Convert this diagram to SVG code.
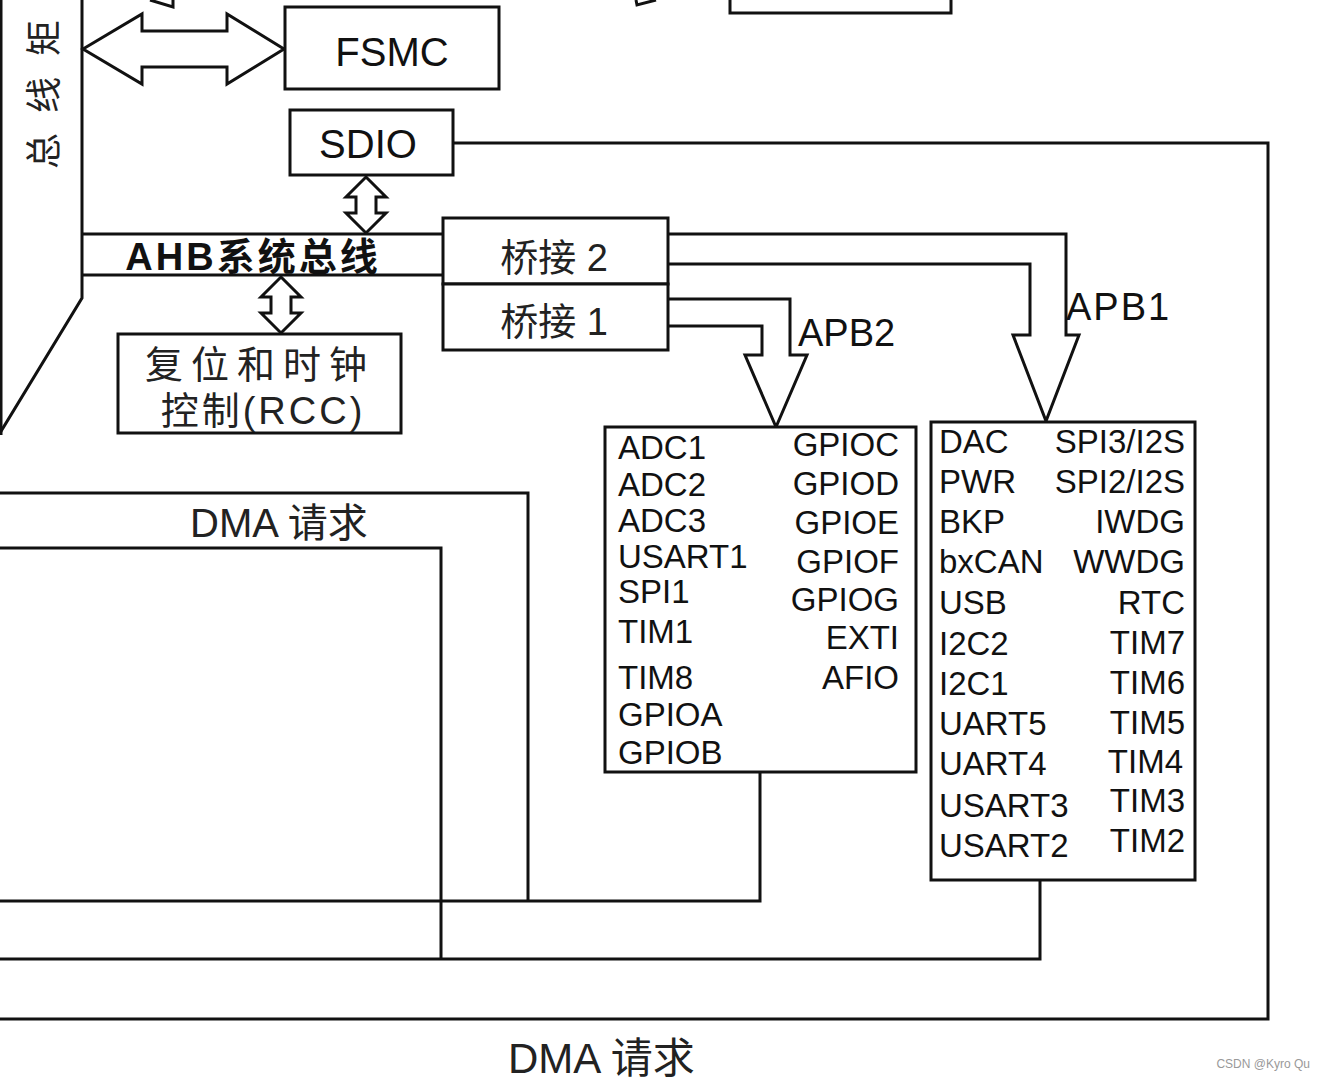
<svg xmlns="http://www.w3.org/2000/svg" width="1324" height="1080" viewBox="0 0 1324 1080">
<style>
.ln{fill:none;stroke:#111;stroke-width:3}
.box{fill:#fff;stroke:#111;stroke-width:3}
.arw{fill:#fff;stroke:#111;stroke-width:3;stroke-linejoin:miter}
.t{font-family:"Liberation Sans","Noto Sans CJK SC",sans-serif;fill:#111}
.cn{font-family:"Liberation Sans","Noto Sans CJK SC",sans-serif;fill:#222}
.it{font-family:"Liberation Sans",sans-serif;font-size:33px;fill:#111}
.r{text-anchor:end}
.c{text-anchor:middle}
</style>
<rect width="1324" height="1080" fill="#fff"/>

<g id="connectors">
  <!-- left bus matrix outline -->
  <polyline class="ln" points="82,0 82,298 0,433"/>
  <line class="ln" x1="1" y1="0" x2="1" y2="435"/>
  <!-- top partial shapes -->
  <polyline class="ln" stroke-width="2" points="150,0 173,7 173,0"/>
  <polyline class="ln" stroke-width="3" points="636,0 637,5 656,0"/>
  <polyline class="ln" points="730,-2 730,13 951,13 951,-2"/>
  <!-- FSMC double arrow -->
  <polygon class="arw" points="83,49 142,14 142,31 227,31 227,14 284,49 227,84 227,67 142,67 142,84"/>
  <!-- SDIO double arrow -->
  <polygon class="arw" points="366,177 386,197 376,197 376,213 386,213 366,233 346,213 356,213 356,197 346,197"/>
  <!-- AHB bus -->
  <line class="ln" x1="82" y1="234" x2="443" y2="234"/>
  <line class="ln" x1="82" y1="275" x2="443" y2="275"/>
  <!-- RCC double arrow -->
  <polygon class="arw" points="281,277 301,297 291,297 291,313 301,313 281,333 261,313 271,313 271,297 261,297"/>
  <!-- APB1 bus arrow -->
  <polyline class="arw" points="668,234 1066,234 1066,335 1079,335 1046,421 1013,335 1030,335 1030,264 668,264"/>
  <!-- APB2 bus arrow -->
  <polyline class="arw" points="668,299 790,299 790,355 807,355 776,427 745,355 762,355 762,326 668,326"/>
  <!-- SDIO DMA request line -->
  <polyline class="ln" points="453,143 1268,143 1268,1019 0,1019"/>
  <!-- DMA request lines -->
  <polyline class="ln" points="0,493 528,493 528,901"/>
  <polyline class="ln" points="0,901 760,901 760,772"/>
  <polyline class="ln" points="0,548 441,548 441,959"/>
  <polyline class="ln" points="0,959 1040,959 1040,881"/>
</g>

<g id="busmatrix">
  <text class="cn c" font-size="36" transform="translate(57,151) rotate(-90)">总</text>
  <text class="cn c" font-size="36" transform="translate(57,95) rotate(-90)">线</text>
  <text class="cn c" font-size="36" transform="translate(57,38) rotate(-90)">矩</text>
</g>

<g id="fsmc">
  <rect class="box" x="285" y="7" width="214" height="82"/>
  <text class="t c" x="392" y="66" font-size="40">FSMC</text>
</g>

<g id="sdio">
  <rect class="box" x="290" y="110" width="163" height="65"/>
  <text class="t c" x="368" y="158" font-size="40">SDIO</text>
</g>

<g id="ahb">
  <text class="t c" x="253" y="270" font-size="38" font-weight="bold" letter-spacing="3">AHB系统总线</text>
</g>

<g id="rcc">
  <rect class="box" x="118" y="334" width="283" height="99" stroke-width="4"/>
  <text class="cn c" x="260" y="378" font-size="38" letter-spacing="8">复位和时钟</text>
  <text class="cn c" x="263" y="424" font-size="38" letter-spacing="3">控制(RCC)</text>
</g>

<g id="bridge2">
  <rect class="box" x="443" y="218" width="225" height="66"/>
  <text class="cn c" x="554" y="271" font-size="38">桥接 2</text>
</g>
<g id="bridge1">
  <rect class="box" x="443" y="284" width="225" height="66"/>
  <text class="cn c" x="554" y="335" font-size="38">桥接 1</text>
</g>

<g id="apb-labels">
  <text class="t" x="798" y="346" font-size="38">APB2</text>
  <text class="t" x="1066" y="320" font-size="38" letter-spacing="2">APB1</text>
</g>

<g id="apb2-periph">
  <rect class="box" x="605" y="427" width="311" height="345" stroke-width="2.5"/>
  <text class="it" x="618" y="459">ADC1</text>
  <text class="it" x="618" y="496">ADC2</text>
  <text class="it" x="618" y="532">ADC3</text>
  <text class="it" x="618" y="568">USART1</text>
  <text class="it" x="618" y="603">SPI1</text>
  <text class="it" x="618" y="643">TIM1</text>
  <text class="it" x="618" y="689">TIM8</text>
  <text class="it" x="618" y="726">GPIOA</text>
  <text class="it" x="618" y="764">GPIOB</text>
  <text class="it r" x="899" y="456">GPIOC</text>
  <text class="it r" x="899" y="495">GPIOD</text>
  <text class="it r" x="899" y="534">GPIOE</text>
  <text class="it r" x="899" y="573">GPIOF</text>
  <text class="it r" x="899" y="611">GPIOG</text>
  <text class="it r" x="899" y="649">EXTI</text>
  <text class="it r" x="899" y="689">AFIO</text>
</g>

<g id="apb1-periph">
  <rect class="box" x="931" y="422" width="264" height="458" stroke-width="2.5"/>
  <text class="it" x="939" y="453">DAC</text>
  <text class="it" x="939" y="493">PWR</text>
  <text class="it" x="939" y="533">BKP</text>
  <text class="it" x="939" y="573">bxCAN</text>
  <text class="it" x="939" y="614">USB</text>
  <text class="it" x="939" y="655">I2C2</text>
  <text class="it" x="939" y="695">I2C1</text>
  <text class="it" x="939" y="735">UART5</text>
  <text class="it" x="939" y="775">UART4</text>
  <text class="it" x="939" y="817">USART3</text>
  <text class="it" x="939" y="857">USART2</text>
  <text class="it r" x="1185" y="453">SPI3/I2S</text>
  <text class="it r" x="1185" y="493">SPI2/I2S</text>
  <text class="it r" x="1185" y="533">IWDG</text>
  <text class="it r" x="1185" y="573">WWDG</text>
  <text class="it r" x="1185" y="614">RTC</text>
  <text class="it r" x="1185" y="654">TIM7</text>
  <text class="it r" x="1185" y="694">TIM6</text>
  <text class="it r" x="1185" y="734">TIM5</text>
  <text class="it r" x="1183" y="773">TIM4</text>
  <text class="it r" x="1185" y="812">TIM3</text>
  <text class="it r" x="1185" y="852">TIM2</text>
</g>

<g id="dma-labels">
  <text class="cn" x="190" y="537" font-size="40">DMA 请求</text>
  <text class="cn" x="508" y="1073" font-size="42">DMA 请求</text>
</g>

<g id="watermark">
  <text x="1310" y="1068" font-family="Liberation Sans,sans-serif" font-size="12" fill="#999" text-anchor="end">CSDN @Kyro Qu</text>
</g>
</svg>
